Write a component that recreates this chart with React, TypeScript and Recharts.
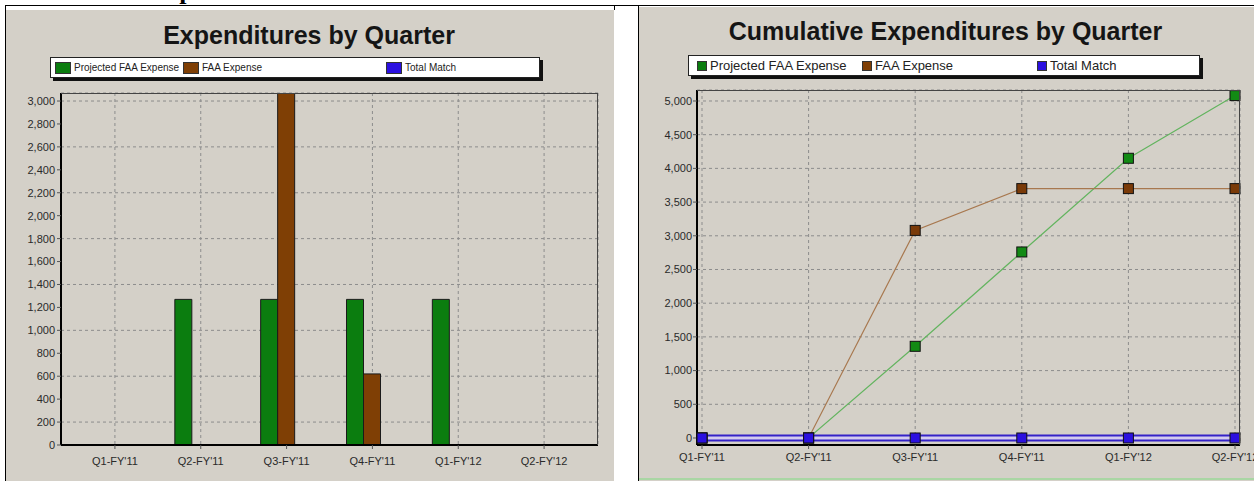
import React from 'react';
import { BarChart, Bar, LineChart, Line, XAxis, YAxis, CartesianGrid } from 'recharts';

const quarters = ["Q1-FY'11", "Q2-FY'11", "Q3-FY'11", "Q4-FY'11", "Q1-FY'12", "Q2-FY'12"];
const projectedByQuarter = [0, 1270, 1270, 1270, 1270, 0];
const faaByQuarter = [0, 0, 3090, 620, 0, 0];
const matchByQuarter = [0, 0, 0, 0, 0, 0];
const projectedCumulative = [0, 0, 1360, 2760, 4150, 5080];
const faaCumulative = [0, 0, 3080, 3700, 3700, 3700];
const matchCumulative = [0, 0, 0, 0, 0, 0];
const quarterTicks = [0, 200, 400, 600, 800, 1000, 1200, 1400, 1600, 1800, 2000, 2200, 2400, 2600, 2800, 3000];
const cumulativeTicks = [0, 500, 1000, 1500, 2000, 2500, 3000, 3500, 4000, 4500, 5000];
const seriesNames = ['Projected FAA Expense', 'FAA Expense', 'Total Match'];

const GREEN = '#0b7d0f';
const BROWN = '#7f3f05';
const BLUE = '#2b10e0';
const PANEL = '#d4d0c8';
const FONT = '"Liberation Sans", Arial, sans-serif';

const barData = quarters.map((q, i) => ({
  q,
  projected: projectedByQuarter[i],
  faa: faaByQuarter[i],
  match: matchByQuarter[i],
}));

const lineData = quarters.map((q, i) => ({
  q,
  projected: projectedCumulative[i],
  faa: faaCumulative[i],
  match: matchCumulative[i],
}));

const fmt = (v: number) => v.toLocaleString('en-US');
const tickStyle = { fontSize: 11, fill: '#2a2a2a', fontFamily: FONT };

const squareDot = (fill: string) => (p: any) => (
  <rect key={`d-${fill}-${p.index}`} x={p.cx - 5} y={p.cy - 5} width={10} height={10} fill={fill} stroke="#111" strokeWidth={1} />
);

const Title = ({ text, left, top, width }: { text: string; left: number; top: number; width: number }) => (
  <div style={{ position: 'absolute', left, top, width, textAlign: 'center', fontFamily: FONT, fontWeight: 'bold', fontSize: 25, color: '#151515' }}>
    {text}
  </div>
);

type LegendProps = { left: number; top: number; width: number; slots: number[]; square: [number, number]; fontSize: number };

const LegendBox = ({ left, top, width, slots, square, fontSize }: LegendProps) => {
  const colors = [GREEN, BROWN, BLUE];
  return (
    <div style={{ position: 'absolute', left, top, width, height: 19, background: '#fff', border: '1px solid #222', boxShadow: '3px 3px 0 #111', fontFamily: FONT, fontSize, color: '#222' }}>
      {seriesNames.map((n, i) => (
        <div key={n} style={{ position: 'absolute', left: slots[i], top: 0, height: 19, display: 'flex', alignItems: 'center', whiteSpace: 'nowrap' }}>
          <span style={{ display: 'inline-block', width: square[0], height: square[1], background: colors[i], border: '1px solid #333', marginRight: 3 }} />
          {n}
        </div>
      ))}
    </div>
  );
};

export default function App() {
  return (
    <div style={{ position: 'absolute', left: 0, top: 0, width: 1254, height: 481, background: '#fff', overflow: 'hidden' }}>
      {/* page frame */}
      <svg width={1254} height={12} style={{ position: 'absolute', left: 0, top: 0 }}>
        <text x={149} y={-1} fontFamily='"Liberation Serif", serif' fontWeight="bold" fontSize={26} fill="#000">Expenditures</text>
        <line x1={5} y1={5.5} x2={1254} y2={5.5} stroke="#000" />
        <line x1={614.5} y1={5} x2={614.5} y2={10} stroke="#000" />
      </svg>
      <div style={{ position: 'absolute', left: 5, top: 5, width: 1, height: 476, background: '#000' }} />
      <div style={{ position: 'absolute', left: 638, top: 5, width: 1, height: 476, background: '#000' }} />

      {/* left panel */}
      <div style={{ position: 'absolute', left: 6, top: 10, width: 608, height: 471, background: PANEL }}>
        <BarChart width={608} height={471} data={barData} margin={{ top: 83, right: 16, left: 0, bottom: 0 }} barCategoryGap={17} barGap={0}>
          <CartesianGrid stroke="#8c8c8c" strokeDasharray="3 3" />
          <XAxis dataKey="q" height={36} interval={0} padding={{ left: 11, right: 11 }} tick={tickStyle} tickSize={4} tickMargin={8} axisLine={{ stroke: '#000', strokeWidth: 2 }} tickLine={{ stroke: '#555' }} />
          <YAxis width={55} domain={[0, 3070]} allowDataOverflow ticks={quarterTicks} tickFormatter={fmt} tick={tickStyle} tickSize={4} tickMargin={2} axisLine={{ stroke: '#000', strokeWidth: 2 }} tickLine={{ stroke: '#555' }} />
          <Bar dataKey="projected" fill={GREEN} stroke="#1a1a1a" strokeWidth={1} isAnimationActive={false} />
          <Bar dataKey="faa" fill={BROWN} stroke="#1a1a1a" strokeWidth={1} isAnimationActive={false} />
          <Bar dataKey="match" fill={BLUE} stroke="#1a1a1a" strokeWidth={1} isAnimationActive={false} />
        </BarChart>
        <div style={{ position: 'absolute', left: 55, top: 83, width: 537, height: 352, borderTop: '1px solid #444', borderRight: '1px solid #444', boxSizing: 'border-box', pointerEvents: 'none' }} />
        <Title text="Expenditures by Quarter" left={0} top={11} width={606} />
        <LegendBox left={44} top={47} width={488} slots={[4, 132, 335]} square={[14, 10]} fontSize={10} />
      </div>

      {/* right panel */}
      <div style={{ position: 'absolute', left: 639, top: 7, width: 615, height: 474, background: PANEL }}>
        <LineChart width={615} height={474} data={lineData} margin={{ top: 83, right: 14, left: 0, bottom: 0 }}>
          <CartesianGrid stroke="#8c8c8c" strokeDasharray="3 3" />
          <XAxis dataKey="q" height={36} interval={0} padding={{ left: 5, right: 5 }} tick={tickStyle} tickSize={4} tickMargin={4} axisLine={{ stroke: '#000', strokeWidth: 2 }} tickLine={{ stroke: '#555' }} />
          <YAxis width={58} domain={[-104, 5163]} allowDataOverflow ticks={cumulativeTicks} tickFormatter={fmt} tick={tickStyle} tickSize={4} tickMargin={1} axisLine={{ stroke: '#000', strokeWidth: 2 }} tickLine={{ stroke: '#555' }} />
          <Line type="linear" dataKey="projected" stroke="#63b45f" strokeWidth={1.2} dot={squareDot('#128a14')} isAnimationActive={false} />
          <Line type="linear" dataKey="faa" stroke="#a8784f" strokeWidth={1.2} dot={squareDot('#7a3a08')} isAnimationActive={false} />
          <Line type="linear" dataKey="match" stroke="#3422c8" strokeWidth={7} dot={false} isAnimationActive={false} />
          <Line type="linear" dataKey="match" stroke="#d3cbef" strokeWidth={3} dot={squareDot(BLUE)} isAnimationActive={false} />
        </LineChart>
        <div style={{ position: 'absolute', left: 58, top: 83, width: 543, height: 355, borderTop: '1px solid #444', borderRight: '1px solid #444', boxSizing: 'border-box', pointerEvents: 'none' }} />
        <Title text="Cumulative Expenditures by Quarter" left={0} top={10} width={613} />
        <LegendBox left={49} top={48} width={510} slots={[8, 173, 348]} square={[8, 8]} fontSize={13} />
        <div style={{ position: 'absolute', left: 0, top: 471, width: 615, height: 2, background: '#a9d6a4' }} />
      </div>
    </div>
  );
}
